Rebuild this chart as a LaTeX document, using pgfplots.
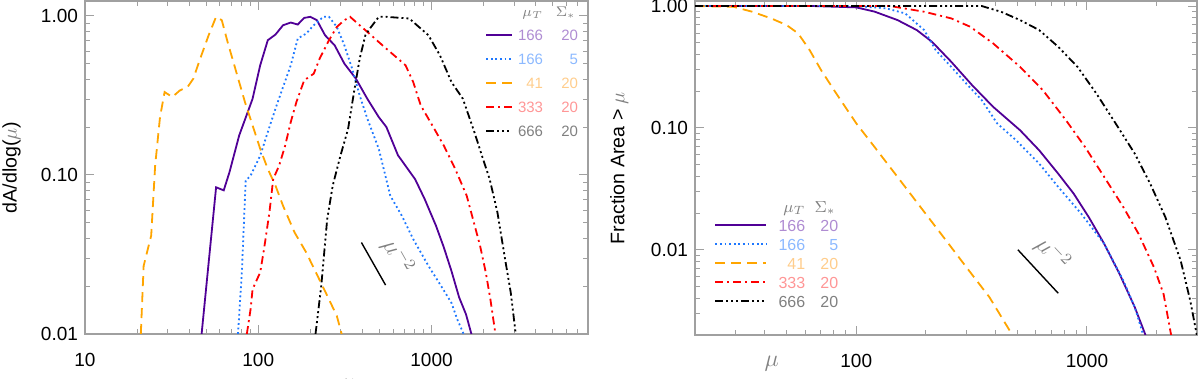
\documentclass[border=0pt]{standalone}
\usepackage{pgfplots}
\pgfplotsset{compat=1.18}
\usepackage{fontspec}
\setmainfont{Liberation Sans}

\definecolor{cpurple}{RGB}{80,0,150}
\definecolor{cblue}{RGB}{30,120,255}
\definecolor{corange}{RGB}{255,165,0}
\definecolor{cred}{RGB}{255,0,0}
\definecolor{lpurple}{RGB}{175,140,210}
\definecolor{lblue}{RGB}{140,185,255}
\definecolor{lorange}{RGB}{255,205,140}
\definecolor{lred}{RGB}{255,150,150}
\definecolor{lgrey}{RGB}{128,128,128}
\definecolor{axgrey}{RGB}{160,160,160}

\tikzset{
  s166/.style={cpurple, line width=0.9pt},
  s5/.style={cblue, line width=0.9pt, dash pattern=on 0.9pt off 1.4pt},
  s41/.style={corange, line width=0.9pt, dash pattern=on 5pt off 3pt},
  s333/.style={cred, line width=0.9pt, dash pattern=on 4pt off 2pt on 1pt off 2pt},
  s666/.style={black, line width=0.9pt, dash pattern=on 4pt off 1.5pt on 1pt off 1.5pt on 1pt off 1.5pt on 1pt off 1.5pt},
}

\newcommand{\lrow}[5]{\textcolor{#1}{\makebox[#2][r]{#4}\makebox[#3][r]{#5}}}

\begin{document}
\begin{tikzpicture}

% left panel: dA/dlog(mu)
\begin{loglogaxis}[
  scale only axis,
  axis line style={axgrey, line width=0.6pt},
  tick style={axgrey, line width=0.5pt},
  major tick length=4.5pt, minor tick length=2.5pt,
  tick align=inside, xtick pos=both, ytick pos=both,
  tick label style={font=\fontsize{9.5}{10}\selectfont, black},
  label style={font=\fontsize{9.8}{10}\selectfont},
  xticklabel shift=6pt,
  legend cell align=left,
  at={(42.5pt,22.5pt)}, anchor=south west,
  width=251.5pt, height=166.5pt,
  xmin=10, xmax=8000, ymin=0.01, ymax=1.24,
  xtick={10,100,1000}, xticklabels={10,100,1000},
  minor xtick={20,30,40,50,60,70,80,90,200,300,400,500,600,700,800,900,2000,3000,4000,5000,6000,7000,8000},
  ytick={0.01,0.1,1}, yticklabels={0.01,0.10,1.00},
  minor ytick={0.02,0.03,0.04,0.05,0.06,0.07,0.08,0.09,0.2,0.3,0.4,0.5,0.6,0.7,0.8,0.9},
  ylabel={dA/dlog(\textcolor{lgrey}{$\mu$})},
  ylabel style={at={(axis description cs:-0.146,0.5)}, anchor=center},
  xlabel={\textcolor{lgrey}{\fontsize{12}{12}\selectfont$\mu$}},
  xlabel style={at={(axis description cs:0.523,0)}, anchor=north, yshift=-19pt},
  legend image code/.code={\draw[#1] (0pt,0pt) -- (13pt,0pt);},
  legend style={at={(0.795,0.99)}, anchor=north west, draw=none, fill=none,
    font=\fontsize{7.5}{8}\selectfont, inner sep=0pt, column sep=2pt, row sep=6pt,
    nodes={inner sep=0pt, text height=6pt, text depth=0pt}},
]
\addlegendimage{empty legend}
\addlegendentry{\lrow{lgrey}{13pt}{17.5pt}{$\mu_T$}{$\Sigma_*$\,}}

\addplot[s166] coordinates {
(47.1,0.01) (57.1,0.0836) (63.2,0.080) (68.2,0.104) (77.6,0.177) (92.7,0.301)
(102.6,0.489) (113.5,0.703) (125.7,0.763) (139,0.873) (154,0.908) (169,0.882)
(184,0.971) (200,0.986) (218,0.939) (243,0.755) (276,0.653) (314,0.501)
(366,0.403) (426,0.301) (496,0.231) (549,0.200) (640,0.133) (804,0.094)
(913,0.0705) (1062,0.0478) (1177,0.0351) (1303,0.0249) (1443,0.0170)
(1581,0.0133) (1699,0.01)};
\addlegendentry{\lrow{lpurple}{13pt}{17.5pt}{166}{20}}

\addplot[s5] coordinates {
(76.4,0.01) (80.4,0.0244) (84.6,0.092) (90.3,0.099) (102.6,0.132) (113.5,0.186)
(125.7,0.261) (139,0.357) (154,0.489) (169,0.720) (189,0.774) (209,0.873)
(237,0.986) (256,0.986) (284,0.852) (314,0.653) (348,0.466) (385,0.316)
(426,0.226) (496,0.146) (578,0.074) (673,0.0555) (784,0.0395) (960,0.0268)
(1118,0.0206) (1303,0.0157) (1406,0.0124) (1532,0.01)};
\addlegendentry{\lrow{lblue}{13pt}{17.5pt}{166}{5}}

\addplot[s41] coordinates {
(21.0,0.01) (21.8,0.0268) (24.1,0.0415) (25.4,0.1145) (27.1,0.231) (28.8,0.332)
(31.9,0.309) (35.3,0.340) (39.1,0.357) (42.2,0.403) (45.5,0.513) (51.7,0.755)
(57.1,0.986) (61.6,0.939) (66.5,0.686) (73.7,0.466) (83.8,0.287) (92.7,0.205)
(102.6,0.146) (113.5,0.109) (125.7,0.0857) (139,0.064) (162,0.0435) (189,0.0326)
(220,0.0232) (256,0.0165) (284,0.0130) (303,0.01)};
\addlegendentry{\lrow{lorange}{13pt}{17.5pt}{41}{20}}

\addplot[s333] coordinates {
(85.9,0.01) (90.3,0.0143) (92.7,0.0191) (102.6,0.0244) (108,0.0342) (116,0.0582)
(122,0.0944) (132,0.1145) (143,0.153) (154,0.215) (166,0.287) (184,0.393)
(209,0.433) (226,0.538) (256,0.703) (284,0.852) (314,0.939) (339,0.986)
(375,0.895) (426,0.793) (521,0.653) (640,0.538) (708,0.489) (784,0.384)
(867,0.273) (1010,0.205) (1177,0.153) (1370,0.109) (1596,0.074) (1906,0.0359)
(2056,0.0244) (2187,0.0165) (2338,0.01)};
\addlegendentry{\lrow{lred}{13pt}{17.5pt}{333}{20}}

\addplot[s666] coordinates {
(214,0.01) (231,0.0201) (250,0.0528) (269,0.0857) (298,0.132) (330,0.195)
(357,0.332) (385,0.538) (415,0.755) (448,0.852) (496,0.986) (549,0.986)
(745,0.962) (824,0.873) (960,0.755) (1118,0.565) (1303,0.384) (1517,0.301)
(1767,0.186) (1955,0.132) (2166,0.094) (2400,0.0582) (2657,0.0296)
(2866,0.0182) (3062,0.01)};
\addlegendentry{\lrow{lgrey}{13pt}{17.5pt}{666}{20}}

% mu^-2 guide
\addplot[black, line width=0.7pt, forget plot] coordinates {(394,0.0376) (543,0.0203)}
  node[pos=0.62, sloped, above, lgrey, font=\fontsize{12}{12}\selectfont, inner sep=6pt] {$\mu^{-2}$};
\end{loglogaxis}

% right panel: cumulative fraction
\begin{loglogaxis}[
  scale only axis,
  axis line style={axgrey, line width=0.6pt},
  tick style={axgrey, line width=0.5pt},
  major tick length=4.5pt, minor tick length=2.5pt,
  tick align=inside, xtick pos=both, ytick pos=both,
  tick label style={font=\fontsize{9.5}{10}\selectfont, black},
  label style={font=\fontsize{9.8}{10}\selectfont},
  xticklabel shift=6pt,
  legend cell align=left,
  at={(347.5pt,22pt)}, anchor=south west,
  width=251pt, height=167pt,
  xmin=20, xmax=3000, ymin=0.002, ymax=1.1,
  xtick={100,1000}, xticklabels={100,1000},
  minor xtick={30,40,50,60,70,80,90,200,300,400,500,600,700,800,900,2000,3000},
  ytick={0.01,0.1,1}, yticklabels={0.01,0.10,1.00},
  minor ytick={0.002,0.003,0.004,0.005,0.006,0.007,0.008,0.009,0.02,0.03,0.04,0.05,0.06,0.07,0.08,0.09,0.2,0.3,0.4,0.5,0.6,0.7,0.8,0.9},
  ylabel={Fraction Area > \textcolor{lgrey}{$\mu$}},
  ylabel style={at={(axis description cs:-0.151,0.5)}, anchor=center},
  xlabel={\textcolor{lgrey}{\fontsize{12}{12}\selectfont$\mu$}},
  xlabel style={at={(axis description cs:0.153,0)}, anchor=center, yshift=-14.5pt},
  legend image code/.code={\draw[#1] (0pt,0pt) -- (25.5pt,0pt);},
  legend style={at={(0.038,0.405)}, anchor=north west, draw=none, fill=none,
    font=\fontsize{8}{8}\selectfont, inner sep=0pt, column sep=5.5pt, row sep=3.5pt,
    nodes={inner sep=0pt, text height=6pt, text depth=0pt}},
]
\addlegendimage{empty legend}
\addlegendentry{\lrow{lgrey}{13.5pt}{16.5pt}{$\mu_T$}{$\Sigma_*$\,}}
\addlegendimage{s166}
\addlegendentry{\lrow{lpurple}{13.5pt}{16.5pt}{166}{20}}
\addlegendimage{s5}
\addlegendentry{\lrow{lblue}{13.5pt}{16.5pt}{166}{5}}
\addlegendimage{s41}
\addlegendentry{\lrow{lorange}{13.5pt}{16.5pt}{41}{20}}
\addlegendimage{s333}
\addlegendentry{\lrow{lred}{13.5pt}{16.5pt}{333}{20}}
\addlegendimage{s666}
\addlegendentry{\lrow{lgrey}{13.5pt}{16.5pt}{666}{20}}

\addplot[s166, forget plot] coordinates {
(20,1.0) (65,1.0) (100,0.975) (120,0.90) (151,0.767) (183,0.635) (213,0.509)
(258,0.349) (318,0.224) (392,0.149) (513,0.0957) (621,0.0655) (751,0.0421)
(876,0.0289) (1019,0.0185) (1188,0.0112) (1384,0.00635) (1612,0.00338)
(1794,0.002)};

\addplot[s5, forget plot] coordinates {
(20,1.0) (100,1.0) (135,0.957) (163,0.87) (197,0.635) (221,0.435) (258,0.317)
(300,0.231) (350,0.169) (408,0.109) (493,0.0792) (621,0.0509) (751,0.0328)
(944,0.0198) (1188,0.0112) (1438,0.0056) (1612,0.00338) (1754,0.002)};

\addplot[s41, forget plot] coordinates {
(20,1.0) (29.3,0.987) (35.4,0.898) (42.9,0.79) (49.9,0.698) (56,0.596)
(62.8,0.435) (70.4,0.298) (82,0.191) (100,0.109) (120,0.0698) (151,0.0396)
(190,0.0224) (239,0.0127) (300,0.00721) (378,0.00408) (475,0.002)};

\addplot[s333, forget plot] coordinates {
(20,1.0) (140,1.0) (197,0.898) (258,0.792) (312,0.676) (392,0.494) (513,0.317)
(644,0.204) (810,0.116) (981,0.0698) (1188,0.0396) (1438,0.0224) (1675,0.0135)
(1951,0.00721) (2148,0.00435) (2317,0.002)};

\addplot[s666, forget plot] coordinates {
(20,1.0) (350,1.0) (424,0.898) (513,0.767) (621,0.635) (751,0.463) (910,0.317)
(1100,0.191) (1331,0.109) (1612,0.0615) (1880,0.0349) (2188,0.0185)
(2548,0.00817) (2803,0.00384) (2995,0.002)};

\addplot[black, line width=0.7pt, forget plot] coordinates {(502,0.01) (751,0.0044)}
  node[pos=0.45, sloped, above, lgrey, font=\fontsize{12}{12}\selectfont, inner sep=5pt] {$\mu^{-2}$};
\end{loglogaxis}

\pgfresetboundingbox
\useasboundingbox (0,0) rectangle (600pt,189.5pt);
\end{tikzpicture}
\end{document}
